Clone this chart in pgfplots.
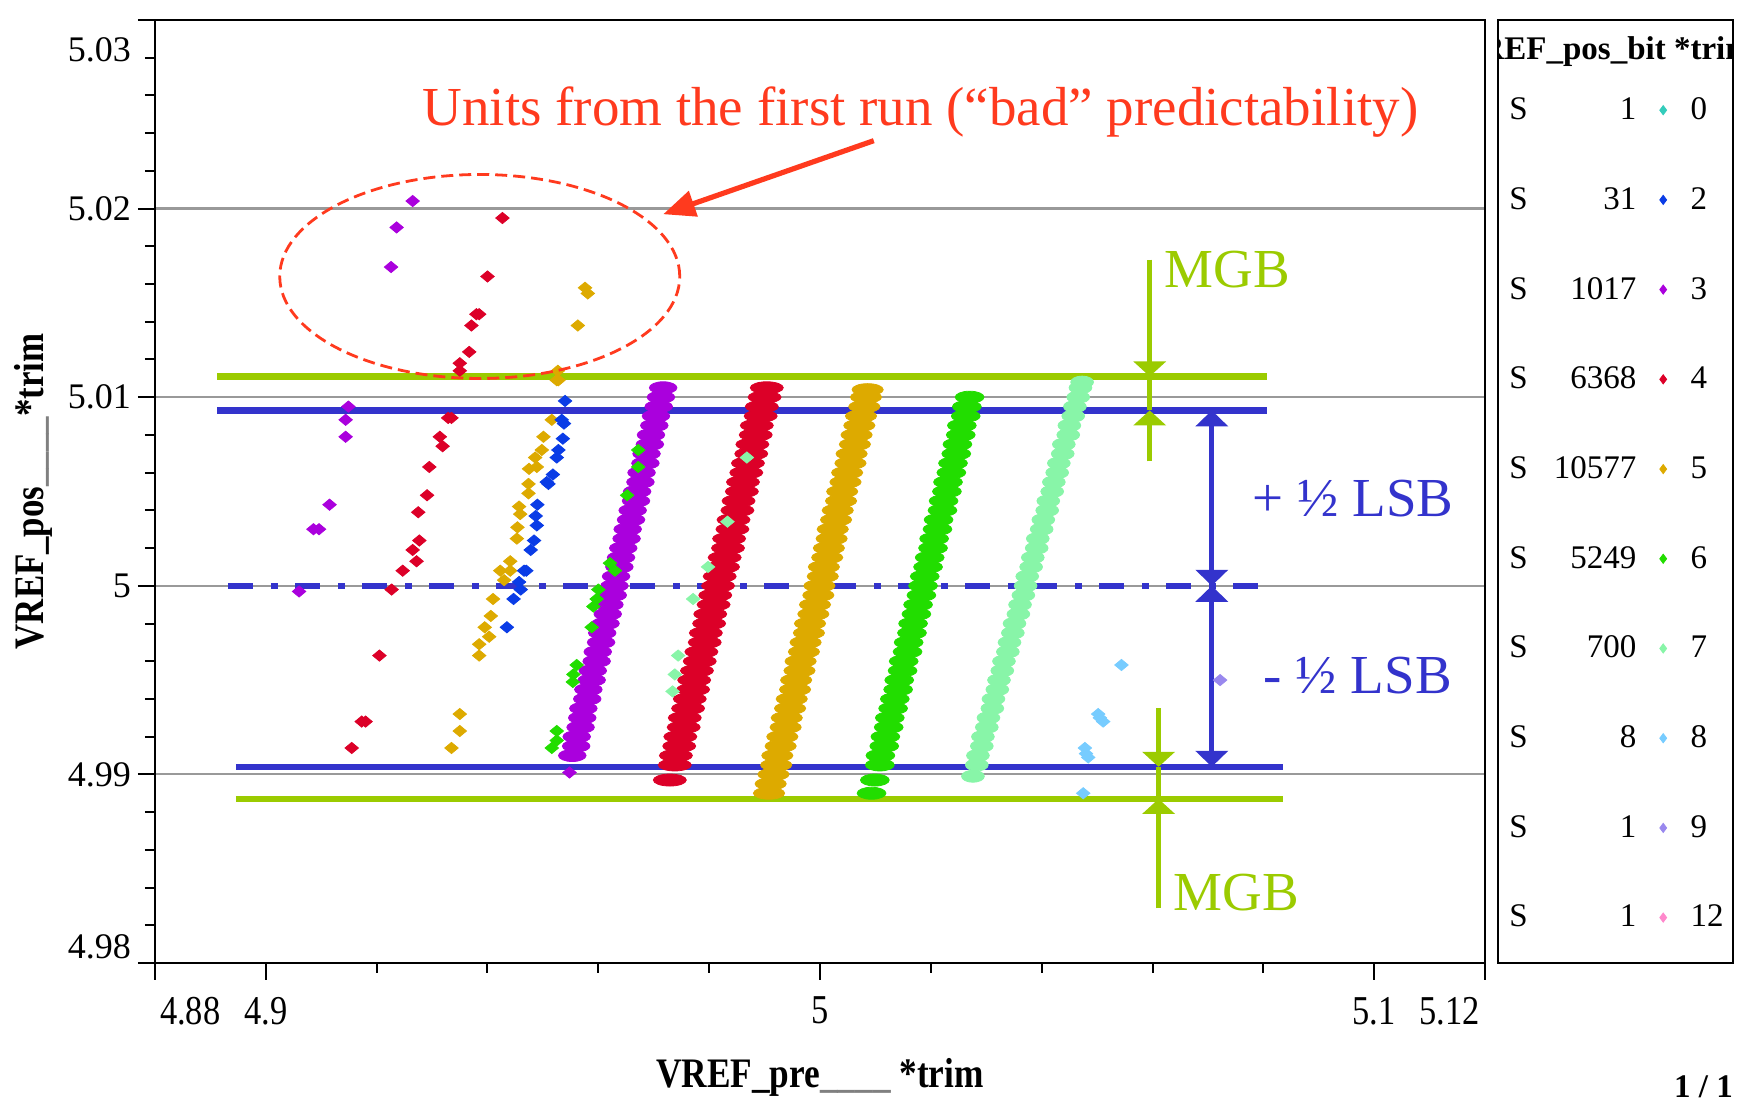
\documentclass[border=0pt]{standalone}
\usepackage{fontspec}
\setmainfont{Liberation Serif}
\usepackage{graphicx}
\usepackage{pgfplots}
\pgfplotsset{compat=1.18}
\usetikzlibrary{arrows.meta}

\definecolor{mgb}{HTML}{9BCB00}
\definecolor{lsb}{HTML}{3333CC}
\definecolor{annot}{HTML}{FF3A1E}
\definecolor{bzero}{HTML}{33CCBB}
\definecolor{btwo}{HTML}{0A3CE6}
\definecolor{bthree}{HTML}{AA00DD}
\definecolor{bfour}{HTML}{DC0028}
\definecolor{bfive}{HTML}{DDAA00}
\definecolor{bsix}{HTML}{22DD00}
\definecolor{bseven}{HTML}{88F5A8}
\definecolor{beight}{HTML}{77CCFF}
\definecolor{bnine}{HTML}{9988EE}
\definecolor{btwelve}{HTML}{FF88CC}

\pgfplotsset{
  band/.style={only marks, mark=*, mark size=3pt,
    mark options={draw=none, xscale=#1}, forget plot},
  stray/.style={only marks, mark=diamond*, mark size=2.8pt,
    mark options={draw=none, xscale=1.6}, forget plot},
  key/.style={only marks, mark=diamond*, mark size=2.3pt,
    mark options={draw=none}, color=#1},
}
\newcommand{\Lrow}[1]{\makebox[14pt][l]{S}\makebox[49.5pt][r]{#1}\hspace*{6.7pt}}
\newcommand{\Lval}[1]{\hspace*{7pt}#1}
\newcommand{\annfont}{\fontsize{27.5}{30}\selectfont}
\newcommand{\legfont}{\fontsize{16.5}{19}\selectfont}

\begin{document}
\begin{tikzpicture}
\useasboundingbox (-77.5pt,-71.5pt) rectangle (793.5pt,481.5pt);
\begin{axis}[
  scale only axis, width=665pt, height=471.5pt,
  xmin=4.88, xmax=5.12, ymin=4.98, ymax=5.03,
  clip=false,
  axis line style={line width=1.4pt},
  tick align=outside, tick pos=left,
  xtick={4.88,4.9,5,5.1,5.12},
  xticklabels={\rlap{\hspace*{3pt}4.88},4.9,5,5.1,\llap{5.12\hspace*{3pt}}},
  minor xtick={4.92,4.94,4.96,4.98,5.02,5.04,5.06,5.08},
  ytick={4.98,4.99,5,5.01,5.02,5.03},
  yticklabels={\raisebox{2.2pt}[0pt][0pt]{4.98},4.99,5,5.01,5.02,\raisebox{-21pt}[0pt][0pt]{5.03}},
  minor y tick num=4,
  major tick length=8.5pt, minor tick length=5pt,
  tick style={black, line width=1pt},
  ymajorgrids, grid style={gray!80, line width=1.1pt},
  x tick label style={font=\fontsize{20.5}{22}\selectfont, xscale=0.84, yshift=-5pt},
  y tick label style={font=\fontsize{18}{20}\selectfont},
  xlabel={\scalebox{0.84}[1]{\bfseries VREF\_pre\textcolor{gray}{\_\_\_\_} *trim}},
  ylabel={\scalebox{0.83}[1]{\bfseries VREF\_pos\textcolor{gray}{\_\_\_\_}*trim}},
  label style={font=\fontsize{21}{24}\selectfont},
  xlabel style={at={(axis description cs:0.5,-0.121)}, anchor=center},
  ylabel style={at={(axis description cs:-0.0917,0.5)}, anchor=center},
  legend columns=2,
  legend cell align=left,
  legend style={at={(rel axis cs:1.0105,0.918)}, anchor=north west,
    draw=none, fill=none, inner sep=0pt, row sep=32.4pt, column sep=5pt,
    font=\legfont, nodes={inner sep=0pt}},
]
% bit 3 (purple) band and stray units
\addplot[band=2.3, color=bthree] coordinates {
 (4.9553,4.9910) (4.9560,4.9915) (4.9561,4.9920) (4.9568,4.9925) (4.9571,4.9930)
 (4.9573,4.9935) (4.9580,4.9940) (4.9582,4.9945) (4.9588,4.9950) (4.9590,4.9955)
 (4.9597,4.9960) (4.9599,4.9965) (4.9605,4.9970) (4.9607,4.9975) (4.9613,4.9980)
 (4.9617,4.9985) (4.9620,4.9990) (4.9626,4.9995) (4.9629,5.0000) (4.9632,5.0005)
 (4.9638,5.0010) (4.9641,5.0015) (4.9645,5.0020) (4.9651,5.0025) (4.9653,5.0030)
 (4.9659,5.0035) (4.9662,5.0040) (4.9668,5.0045) (4.9670,5.0050) (4.9676,5.0055)
 (4.9678,5.0060) (4.9685,5.0065) (4.9687,5.0070) (4.9693,5.0075) (4.9695,5.0080)
 (4.9701,5.0085) (4.9704,5.0090) (4.9709,5.0095) (4.9713,5.0100) (4.9717,5.0105)};
\addplot[stray, color=bthree] coordinates {
 (4.9265,5.0204) (4.9236,5.0190) (4.9226,5.0169) (4.9149,5.0095) (4.9144,5.0088)
 (4.9144,5.0079) (4.9115,5.0043) (4.9096,5.0030) (4.9086,5.0030) (4.9060,4.9997)
 (4.9548,4.9901)};
% bit 4 (red)
\addplot[band=2.75, color=bfour] coordinates {
 (4.9729,4.9897) (4.9738,4.9905) (4.9740,4.9910) (4.9746,4.9915) (4.9748,4.9920)
 (4.9754,4.9925) (4.9756,4.9930) (4.9762,4.9935) (4.9765,4.9940) (4.9771,4.9945)
 (4.9773,4.9950) (4.9778,4.9955) (4.9783,4.9960) (4.9786,4.9965) (4.9792,4.9970)
 (4.9794,4.9975) (4.9800,4.9980) (4.9802,4.9985) (4.9808,4.9990) (4.9811,4.9995)
 (4.9816,5.0000) (4.9819,5.0005) (4.9825,5.0010) (4.9828,5.0015) (4.9834,5.0020)
 (4.9836,5.0025) (4.9842,5.0030) (4.9844,5.0035) (4.9851,5.0040) (4.9853,5.0045)
 (4.9859,5.0050) (4.9861,5.0055) (4.9867,5.0060) (4.9870,5.0065) (4.9876,5.0070)
 (4.9878,5.0075) (4.9884,5.0080) (4.9886,5.0085) (4.9893,5.0090) (4.9895,5.0095)
 (4.9900,5.0100) (4.9904,5.0105)};
\addplot[stray, color=bfour] coordinates {
 (4.9427,5.0195) (4.9400,5.0164) (4.9380,5.0144) (4.9385,5.0144) (4.9371,5.0138)
 (4.9367,5.0124) (4.9350,5.0118) (4.9350,5.0114) (4.9329,5.0089) (4.9335,5.0089)
 (4.9314,5.0079) (4.9319,5.0074) (4.9295,5.0063) (4.9291,5.0048) (4.9275,5.0039)
 (4.9277,5.0024) (4.9265,5.0019) (4.9272,5.0013) (4.9247,5.0008) (4.9227,4.9998)
 (4.9205,4.9963) (4.9173,4.9928) (4.9180,4.9928) (4.9155,4.9914)};
% bit 5 (gold)
\addplot[band=2.6, color=bfive] coordinates {
 (4.9908,4.9890) (4.9911,4.9895) (4.9916,4.9900) (4.9921,4.9905) (4.9923,4.9910)
 (4.9929,4.9915) (4.9932,4.9920) (4.9938,4.9925) (4.9940,4.9930) (4.9946,4.9935)
 (4.9949,4.9940) (4.9955,4.9945) (4.9957,4.9950) (4.9963,4.9955) (4.9965,4.9960)
 (4.9971,4.9965) (4.9974,4.9970) (4.9980,4.9975) (4.9982,4.9980) (4.9988,4.9985)
 (4.9991,4.9990) (4.9997,4.9995) (4.9999,5.0000) (5.0005,5.0005) (5.0007,5.0010)
 (5.0013,5.0015) (5.0016,5.0020) (5.0021,5.0025) (5.0023,5.0030) (5.0029,5.0035)
 (5.0032,5.0040) (5.0038,5.0045) (5.0040,5.0050) (5.0046,5.0055) (5.0049,5.0060)
 (5.0055,5.0065) (5.0057,5.0070) (5.0063,5.0075) (5.0066,5.0080) (5.0071,5.0085)
 (5.0074,5.0090) (5.0080,5.0095) (5.0083,5.0100) (5.0086,5.0104)};
\addplot[stray, color=bfive] coordinates {
 (4.9576,5.0158) (4.9581,5.0155) (4.9563,5.0138) (4.9527,5.0114) (4.9525,5.0109)
 (4.9528,5.0109) (4.9516,5.0088) (4.9501,5.0079) (4.9498,5.0072) (4.9486,5.0068)
 (4.9475,5.0062) (4.9489,5.0063) (4.9474,5.0054) (4.9474,5.0049) (4.9457,5.0042)
 (4.9459,5.0038) (4.9454,5.0031) (4.9453,5.0025) (4.9441,5.0013) (4.9423,5.0008)
 (4.9441,5.0008) (4.9430,5.0003) (4.9410,4.9993) (4.9406,4.9984) (4.9395,4.9978)
 (4.9403,4.9973) (4.9385,4.9969) (4.9385,4.9963) (4.9350,4.9932) (4.9350,4.9923)
 (4.9335,4.9914)};
% bit 2 (blue)
\addplot[stray, color=btwo] coordinates {
 (4.9540,5.0098) (4.9534,5.0088) (4.9538,5.0086) (4.9536,5.0078) (4.9528,5.0072)
 (4.9525,5.0068) (4.9518,5.0059) (4.9507,5.0055) (4.9510,5.0054) (4.9490,5.0043)
 (4.9487,5.0037) (4.9489,5.0032) (4.9484,5.0024) (4.9478,5.0019) (4.9466,5.0008)
 (4.9470,5.0008) (4.9457,5.0002) (4.9460,4.9998) (4.9447,4.9993) (4.9435,4.9978)};
% bit 6 (green)
\addplot[band=2.4, color=bsix] coordinates {
 (5.0093,4.9890) (5.0099,4.9897) (5.0108,4.9905) (5.0109,4.9910) (5.0116,4.9915)
 (5.0118,4.9920) (5.0124,4.9925) (5.0126,4.9930) (5.0132,4.9935) (5.0135,4.9940)
 (5.0141,4.9945) (5.0143,4.9950) (5.0149,4.9955) (5.0151,4.9960) (5.0158,4.9965)
 (5.0160,4.9970) (5.0166,4.9975) (5.0168,4.9980) (5.0174,4.9985) (5.0177,4.9990)
 (5.0183,4.9995) (5.0186,5.0000) (5.0189,5.0005) (5.0195,5.0010) (5.0198,5.0015)
 (5.0204,5.0020) (5.0206,5.0025) (5.0212,5.0030) (5.0214,5.0035) (5.0221,5.0040)
 (5.0223,5.0045) (5.0229,5.0050) (5.0231,5.0055) (5.0237,5.0060) (5.0240,5.0065)
 (5.0246,5.0070) (5.0248,5.0075) (5.0254,5.0080) (5.0256,5.0085) (5.0263,5.0090)
 (5.0265,5.0095) (5.0270,5.0100)};
\addplot[stray, color=bsix] coordinates {
 (4.9672,5.0072) (4.9672,5.0063) (4.9652,5.0048) (4.9621,5.0012) (4.9630,5.0008)
 (4.9600,4.9998) (4.9597,4.9993) (4.9591,4.9989) (4.9588,4.9978) (4.9561,4.9958)
 (4.9555,4.9953) (4.9554,4.9949) (4.9525,4.9923) (4.9525,4.9918) (4.9516,4.9914)};
% bit 7 (light green)
\addplot[band=1.9, color=bseven] coordinates {
 (5.0276,4.9899) (5.0283,4.9905) (5.0285,4.9910) (5.0292,4.9915) (5.0294,4.9920)
 (5.0301,4.9925) (5.0304,4.9930) (5.0311,4.9935) (5.0313,4.9940) (5.0320,4.9945)
 (5.0323,4.9950) (5.0329,4.9955) (5.0332,4.9960) (5.0339,4.9965) (5.0342,4.9970)
 (5.0348,4.9975) (5.0351,4.9980) (5.0358,4.9985) (5.0361,4.9990) (5.0367,4.9995)
 (5.0371,5.0000) (5.0374,5.0005) (5.0381,5.0010) (5.0384,5.0015) (5.0391,5.0020)
 (5.0393,5.0025) (5.0400,5.0030) (5.0403,5.0035) (5.0410,5.0040) (5.0412,5.0045)
 (5.0419,5.0050) (5.0422,5.0055) (5.0428,5.0060) (5.0431,5.0065) (5.0438,5.0070)
 (5.0440,5.0075) (5.0448,5.0080) (5.0450,5.0085) (5.0457,5.0090) (5.0460,5.0095)
 (5.0466,5.0100) (5.0470,5.0105) (5.0473,5.0108)};
\addplot[stray, color=bseven] coordinates {
 (4.9868,5.0068) (4.9833,5.0034) (4.9798,5.0010) (4.9771,4.9993) (4.9744,4.9963)
 (4.9738,4.9953) (4.9734,4.9944)};
% bit 8 (light blue) and bit 9
\addplot[stray, color=beight] coordinates {
 (5.0544,4.9958) (5.0502,4.9932) (5.0511,4.9928) (5.0505,4.9930) (5.0478,4.9914)
 (5.0484,4.9909) (5.0475,4.9890) (5.0480,4.9911)};
\addplot[stray, color=bnine] coordinates {(5.0722,4.9950)};

% limits: guard band and half LSB lines
\draw[mgb, line width=3.4pt] (axis cs:4.8912,5.0111) -- (axis cs:5.0806,5.0111);
\draw[lsb, line width=3.2pt] (axis cs:4.8912,5.0093) -- (axis cs:5.0806,5.0093);
\draw[lsb, line width=3.2pt, dash pattern=on 12.5pt off 9pt on 3.5pt off 8.5pt]
  (axis cs:4.8932,5.0000) -- (axis cs:5.0812,5.0000);
\draw[lsb, line width=3.2pt] (axis cs:4.8946,4.9904) -- (axis cs:5.0835,4.9904);
\draw[mgb, line width=3.4pt] (axis cs:4.8946,4.9887) -- (axis cs:5.0835,4.9887);

% MGB arrows
\draw[mgb, line width=2.6pt, -{Triangle[length=7.5pt,width=16pt]}]
  (axis cs:5.0595,5.0173) -- (axis cs:5.0595,5.0111);
\draw[mgb, line width=2.6pt] (axis cs:5.0595,5.0111) -- (axis cs:5.0595,5.0093);
\draw[mgb, line width=2.6pt, -{Triangle[length=7.5pt,width=16pt]}]
  (axis cs:5.0595,5.0066) -- (axis cs:5.0595,5.0093);
\draw[mgb, line width=2.6pt, -{Triangle[length=7.5pt,width=16pt]}]
  (axis cs:5.0611,4.9935) -- (axis cs:5.0611,4.9904);
\draw[mgb, line width=2.6pt] (axis cs:5.0611,4.9904) -- (axis cs:5.0611,4.9887);
\draw[mgb, line width=2.6pt, -{Triangle[length=7.5pt,width=16pt]}]
  (axis cs:5.0611,4.9829) -- (axis cs:5.0611,4.9887);
% LSB arrows
\draw[lsb, line width=2.6pt, {Triangle[length=8pt,width=16pt]}-{Triangle[length=8pt,width=16pt]}]
  (axis cs:5.0707,5.0093) -- (axis cs:5.0707,5.0000);
\draw[lsb, line width=2.6pt, {Triangle[length=8pt,width=16pt]}-{Triangle[length=8pt,width=16pt]}]
  (axis cs:5.0707,5.0000) -- (axis cs:5.0707,4.9904);

\node[anchor=base west, text=mgb, font=\annfont] at (axis cs:5.0609,5.0158) {MGB};
\node[anchor=base west, text=mgb, font=\annfont] at (axis cs:5.0625,4.9828) {MGB};
\node[anchor=base west, text=lsb, font=\annfont] at (axis cs:5.0768,5.0037) {+ ½ LSB};
\node[anchor=base west, text=lsb, font=\annfont] at (axis cs:5.0788,4.9943) {- ½ LSB};

% annotation of first-run units
\node[anchor=base west, text=annot, font=\annfont] at (axis cs:4.9270,5.0244)
  {Units from the first run (“bad” predictability)};
\draw[annot, line width=2.6pt, -{Triangle[length=16pt,width=13pt]}]
  (axis cs:5.0097,5.0236) -- (axis cs:4.9717,5.0197);
\coordinate (ell) at (axis cs:4.9386,5.0164);

% legend frame, header, page number
\coordinate (lb) at (rel axis cs:1.0098,0);
\coordinate (lt) at (rel axis cs:1.1865,1);
\coordinate (hd) at (rel axis cs:0.9785,0.9586);
\node[anchor=east, font=\bfseries\legfont] at (rel axis cs:1.1917,-0.1315) {1 / 1};

\addlegendimage{empty legend}\addlegendentry{\Lrow{1}}
\addlegendimage{key=bzero}\addlegendentry{\Lval{0}}
\addlegendimage{empty legend}\addlegendentry{\Lrow{31}}
\addlegendimage{key=btwo}\addlegendentry{\Lval{2}}
\addlegendimage{empty legend}\addlegendentry{\Lrow{1017}}
\addlegendimage{key=bthree}\addlegendentry{\Lval{3}}
\addlegendimage{empty legend}\addlegendentry{\Lrow{6368}}
\addlegendimage{key=bfour}\addlegendentry{\Lval{4}}
\addlegendimage{empty legend}\addlegendentry{\Lrow{10577}}
\addlegendimage{key=bfive}\addlegendentry{\Lval{5}}
\addlegendimage{empty legend}\addlegendentry{\Lrow{5249}}
\addlegendimage{key=bsix}\addlegendentry{\Lval{6}}
\addlegendimage{empty legend}\addlegendentry{\Lrow{700}}
\addlegendimage{key=bseven}\addlegendentry{\Lval{7}}
\addlegendimage{empty legend}\addlegendentry{\Lrow{8}}
\addlegendimage{key=beight}\addlegendentry{\Lval{8}}
\addlegendimage{empty legend}\addlegendentry{\Lrow{1}}
\addlegendimage{key=bnine}\addlegendentry{\Lval{9}}
\addlegendimage{empty legend}\addlegendentry{\Lrow{1}}
\addlegendimage{key=btwelve}\addlegendentry{\Lval{12}}
\end{axis}
\draw[annot, line width=1.4pt, dash pattern=on 6pt off 3pt] (ell) ellipse [x radius=100pt, y radius=51pt];
\begin{scope}
  \clip (lb) rectangle (lt);
  \node[anchor=base west, font=\bfseries\legfont, inner sep=0pt] at (hd) {VREF\_pos\_bit *trim};
\end{scope}
\draw[line width=1.2pt] (lb) rectangle (lt);
\end{tikzpicture}
\end{document}
